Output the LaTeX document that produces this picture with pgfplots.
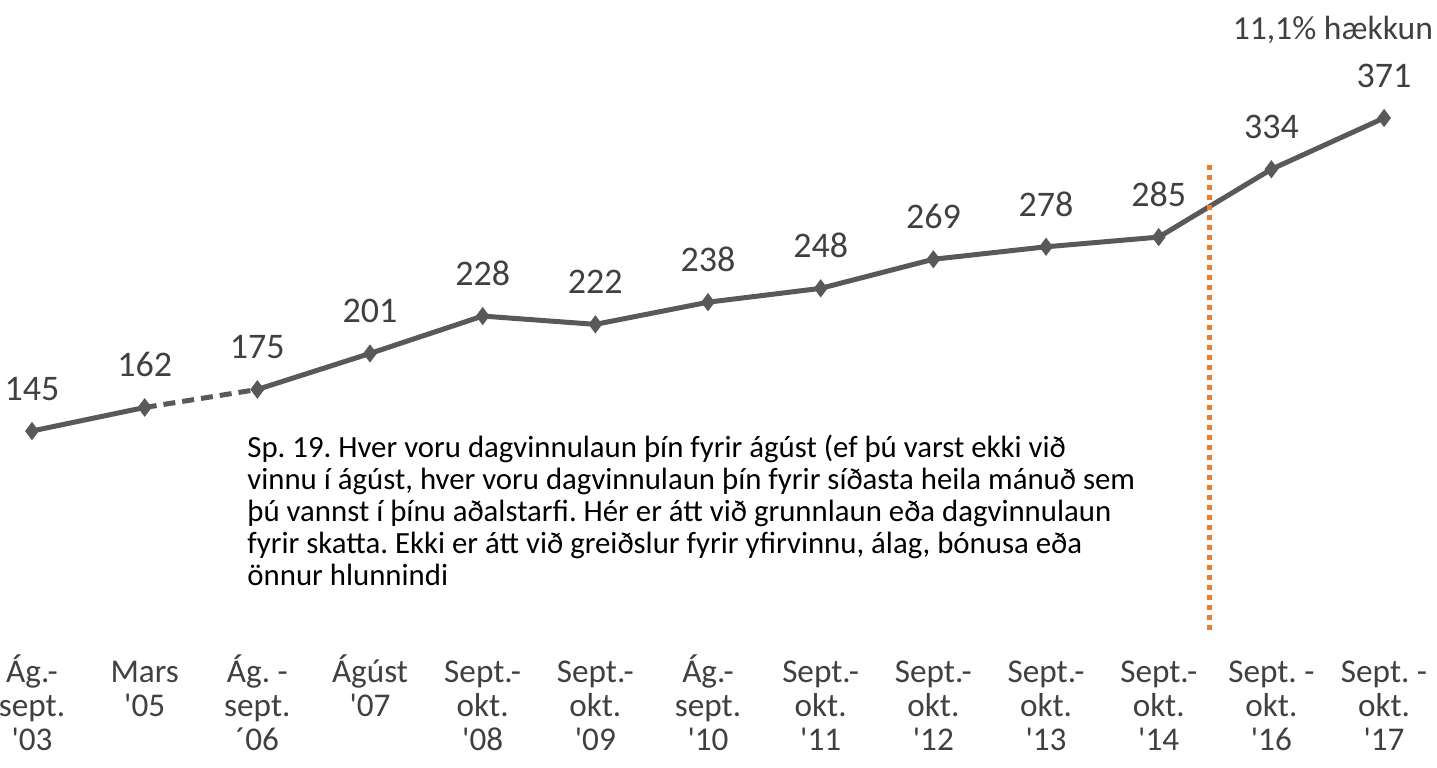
\documentclass[border=0pt]{standalone}
\usepackage{pgfplots}
\pgfplotsset{compat=1.18}
\usepackage{fontspec}
\setmainfont{Carlito}
\frenchspacing
\definecolor{linegray}{HTML}{595959}
\definecolor{txtgray}{HTML}{404040}
\definecolor{orng}{HTML}{ED7D31}
\newcommand{\T}{\rule{0pt}{14pt}}
\begin{document}
\begin{tikzpicture}
\begin{axis}[
  width=718.5pt, height=383.5pt, scale only axis,
  xmin=-0.284, xmax=12.47, ymin=-97.6, ymax=456.2,
  axis line style={draw=none}, tick style={draw=none},
  ytick=\empty,
  xtick={0,...,12},
  xticklabels={{\T Ág.-\\sept.\\\textquotesingle03},{\T Mars\\\textquotesingle05},{\T Ág. -\\sept.\\´06},{\T Ágúst\\\textquotesingle07},{\T Sept.-\\okt.\\\textquotesingle08},{\T Sept.-\\okt.\\\textquotesingle09},{\T Ág.-\\sept.\\\textquotesingle10},{\T Sept.-\\okt.\\\textquotesingle11},{\T Sept.-\\okt.\\\textquotesingle12},{\T Sept.-\\okt.\\\textquotesingle13},{\T Sept.-\\okt.\\\textquotesingle14},{\T Sept. -\\okt.\\\textquotesingle16},{\T Sept. -\\okt.\\\textquotesingle17}},
  xticklabel style={align=center, anchor=north, yshift=56.5pt, text=txtgray, font=\fontsize{16.6}{16.9}\selectfont, inner sep=0pt},
  clip=false,
  /pgf/number format/assume math mode=true,
  every node near coord/.append style={anchor=south, inner sep=0pt, yshift=14pt, text=txtgray, font=\fontsize{18}{20}\selectfont},
]
\addplot[linegray, line width=2.5pt, mark=diamond*, mark size=2.5pt, mark options={solid}, nodes near coords] coordinates {(0,145) (1,162)};
\addplot[linegray, line width=2.5pt, dash pattern=on 6pt off 3.5pt, mark=diamond*, mark size=2.5pt, mark options={solid}] coordinates {(1,162) (2,175)};
\addplot[linegray, line width=2.5pt, mark=diamond*, mark size=2.5pt, nodes near coords] coordinates {(2,175) (3,201) (4,228) (5,222) (6,238) (7,248) (8,269) (9,278) (10,285) (11,334) (12,371)};
\addplot[orng, line width=2.5pt, dash pattern=on 2.5pt off 2.5pt] coordinates {(10.455,337) (10.455,1.3)};
\node[anchor=north west, align=left, inner sep=0pt, text=black, font=\fontsize{15.4}{16}\selectfont] at (rel axis cs:0.1719,0.434) {Sp. 19. Hver voru dagvinnulaun þín fyrir ágúst (ef þú varst ekki við\\vinnu í ágúst, hver voru dagvinnulaun þín fyrir síðasta heila mánuð sem\\þú vannst í þínu aðalstarfi. Hér er átt við grunnlaun eða dagvinnulaun\\fyrir skatta. Ekki er átt við greiðslur fyrir yfirvinnu, álag, bónusa eða\\önnur hlunnindi};
\node[anchor=center, inner sep=0pt, text=txtgray, font=\fontsize{16.8}{18}\selectfont] at (rel axis cs:0.9275,0.961) {11,1\% hækkun};
\coordinate (bl) at (rel axis cs:0,0);
\coordinate (tr) at (rel axis cs:1,1);
\end{axis}
\pgfresetboundingbox
\useasboundingbox (bl) rectangle (tr);
\end{tikzpicture}
\end{document}
